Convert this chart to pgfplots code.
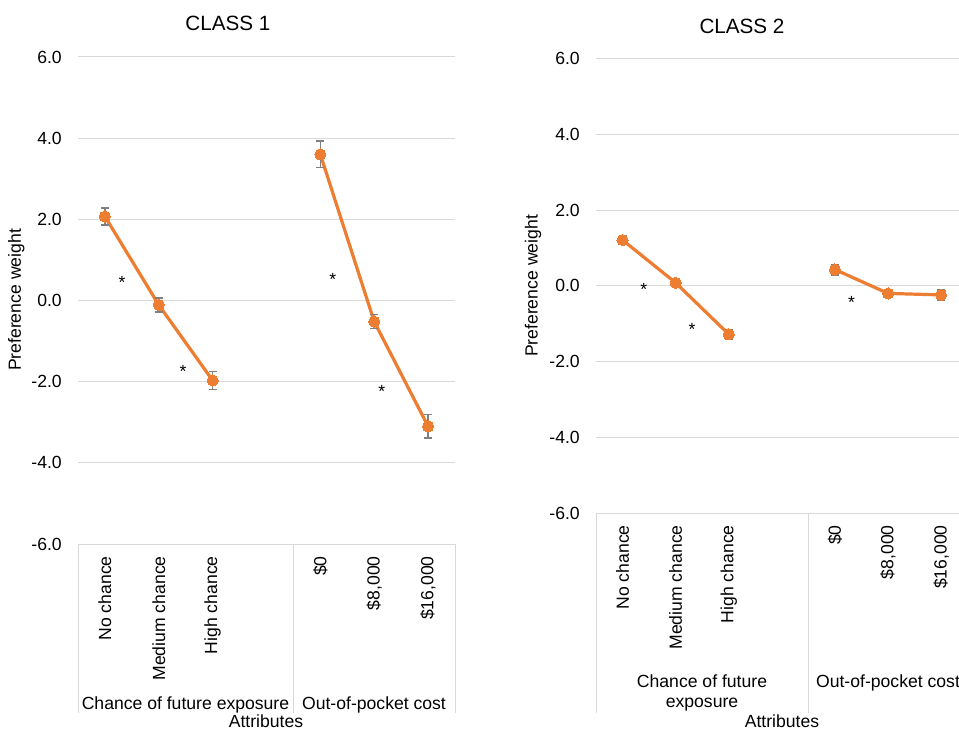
\documentclass[border=0pt]{standalone}
\usepackage{fontspec}
\setmainfont{Liberation Sans}
\usepackage{pgfplots}
\pgfplotsset{compat=1.18}
\usepackage{pgfplotstable}

\definecolor{exo}{HTML}{ED7D31}
\definecolor{gridc}{HTML}{D9D9D9}
\definecolor{errc}{HTML}{7F7F7F}
\newcommand{\lab}{\fontsize{13.2pt}{16pt}\selectfont}
\newcommand{\ttl}{\fontsize{15.5pt}{18pt}\selectfont}

\pgfplotstableread{
x y e
0 2.07 0.21
1 -0.11 0.17
2 -1.97 0.22
}\cAa
\pgfplotstableread{
x y e
4 3.60 0.33
5 -0.52 0.17
6 -3.10 0.29
}\cAb
\pgfplotstableread{
x y e
0 1.21 0.12
1 0.08 0.11
2 -1.28 0.13
}\cBa
\pgfplotstableread{
x y e
4 0.43 0.14
5 -0.20 0.11
6 -0.24 0.13
}\cBb

\pgfplotsset{
 pref/.style={
  scale only axis, anchor=south west,
  xmin=-0.5, xmax=6.5, ymin=-6, ymax=6,
  ytick={-6,-4,...,6}, yticklabels={-6.0,-4.0,-2.0,0.0,2.0,4.0,6.0},
  xtick={0,1,2,4,5,6},
  xticklabels={No chance,Medium chance,High chance,\$0,{\$8,000},{\$16,000}},
  ymajorgrids, grid style={gridc, line width=0.75pt},
  axis line style={draw=none}, major tick length=0pt,
  tick label style={font=\lab, inner sep=0pt},
  xticklabel style={rotate=90, anchor=east},
  xticklabel shift=9pt, yticklabel shift=12pt,
  clip=false,
 },
 ser/.style={exo, line width=2.4pt, mark=none,
   error bars/.cd, y dir=both, y explicit,
   error bar style={errc, line width=1pt},
   error mark options={rotate=90, errc, mark size=3pt, line width=1pt}},
 dots/.style={only marks, mark=*, mark size=4.2pt,
   mark options={fill=exo, draw=exo, line width=0pt}},
 ast/.style={draw=none, mark=none, nodes near coords={*}, nodes near coords align=center,
   every node near coord/.append style={font=\lab, text=black, inner sep=0pt}},
}

\begin{document}
\begin{tikzpicture}
\useasboundingbox (0,0) rectangle (719.25pt,549pt);
\clip (0,0) rectangle (719.25pt,549pt);

% Panel 1
\begin{axis}[pref, at={(58.5pt,141pt)}, width=282.75pt, height=365.25pt]
\addplot[ser] table[x=x,y=y,y error=e] {\cAa};
\addplot[ser] table[x=x,y=y,y error=e] {\cAb};
\addplot[dots] table[x=x,y=y] {\cAa};
\addplot[dots] table[x=x,y=y] {\cAb};
\addplot[ast] coordinates {(0.32,0.44) (1.45,-1.75) (4.23,0.52) (5.14,-2.24)};
\end{axis}

% Panel 2
\begin{axis}[pref, at={(447pt,164.25pt)}, width=278.8pt, height=340.75pt]
\addplot[ser] table[x=x,y=y,y error=e] {\cBa};
\addplot[ser] table[x=x,y=y,y error=e] {\cBb};
\addplot[dots] table[x=x,y=y] {\cBa};
\addplot[dots] table[x=x,y=y] {\cBb};
\addplot[ast] coordinates {(0.40,-0.10) (1.31,-1.16) (4.31,-0.45)};
\end{axis}

% group boxes
\draw[gridc, line width=0.75pt] (58.5pt,141pt) -- (58.5pt,14.25pt)
  (219.75pt,141pt) -- (219.75pt,14.25pt) (341.25pt,141pt) -- (341.25pt,14.25pt);
\draw[gridc, line width=0.75pt] (447pt,164.25pt) -- (447pt,14.25pt)
  (606.2pt,164.25pt) -- (606.2pt,14.25pt) (725.8pt,164.25pt) -- (725.8pt,14.25pt);

% titles
\node[font=\ttl, anchor=base] at (171pt,526pt) {CLASS 1};
\node[font=\ttl, anchor=base] at (556.5pt,523.5pt) {CLASS 2};
% y labels
\node[font=\lab, rotate=90, anchor=base] at (15.75pt,324pt) {Preference weight};
\node[font=\lab, rotate=90, anchor=base] at (403.2pt,334.5pt) {Preference weight};
% group labels
\node[font=\lab, anchor=base, inner sep=0pt] at (139.1pt,17.25pt) {Chance of future exposure};
\node[font=\lab, anchor=base, inner sep=0pt] at (280.5pt,17.25pt) {Out-of-pocket cost};
\node[font=\lab, anchor=base, inner sep=0pt] at (526.5pt,33.75pt) {Chance of future};
\node[font=\lab, anchor=base, inner sep=0pt] at (526.5pt,18.75pt) {exposure};
\node[font=\lab, anchor=base, inner sep=0pt] at (666pt,33.75pt) {Out-of-pocket cost};
% axis titles
\node[font=\lab, anchor=base, inner sep=0pt] at (199.5pt,3.5pt) {Attributes};
\node[font=\lab, anchor=base, inner sep=0pt] at (586.5pt,3.5pt) {Attributes};
\end{tikzpicture}
\end{document}
